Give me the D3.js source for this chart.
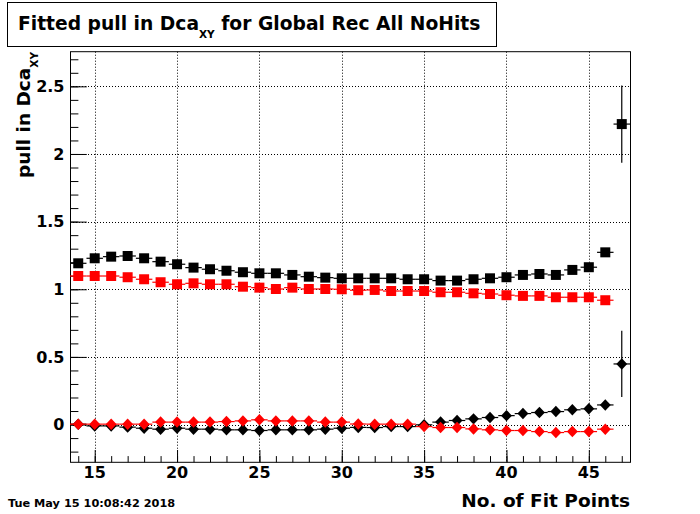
<!DOCTYPE html>
<meta charset="utf-8">
<style>
    body { margin: 0; background: #fff; }
    text { font-family: "DejaVu Sans", sans-serif; font-weight: bold; }
</style>
<svg width="700" height="514"></svg>
<script src="https://d3js.org/d3.v7.min.js"></script>
<script>

    // bins: number of fit points
    var fitPoints = [14, 15, 16, 17, 18, 19, 20, 21, 22, 23, 24, 25, 26, 27, 28, 29, 30,
        31, 32, 33, 34, 35, 36, 37, 38, 39, 40, 41, 42, 43, 44, 45, 46, 47];

    // black squares (14..47)
    var blackSquares = [1.192, 1.229, 1.241, 1.246, 1.229, 1.204, 1.185, 1.160, 1.148, 1.137,
        1.126, 1.118, 1.118, 1.106, 1.093, 1.086, 1.081, 1.081, 1.081, 1.081, 1.074, 1.074,
        1.064, 1.064, 1.074, 1.081, 1.089, 1.106, 1.113, 1.106, 1.143, 1.163, 1.273, 2.221];
    // red squares (14..46)
    var redSquares = [1.098, 1.098, 1.098, 1.089, 1.074, 1.052, 1.037, 1.044, 1.037, 1.037,
        1.019, 1.012, 1.002, 1.012, 1.002, 1.002, 1.000, 0.993, 0.995, 0.987, 0.987, 0.987,
        0.978, 0.978, 0.970, 0.965, 0.956, 0.951, 0.951, 0.941, 0.941, 0.941, 0.919];
    // black diamonds (14..47)
    var blackDiamonds = [0.003, -0.010, -0.010, -0.019, -0.027, -0.034, -0.027, -0.034, -0.034,
        -0.039, -0.039, -0.044, -0.039, -0.039, -0.039, -0.034, -0.027, -0.021, -0.022, -0.015,
        -0.015, -0.002, 0.018, 0.030, 0.042, 0.052, 0.066, 0.081, 0.089, 0.096, 0.109, 0.116,
        0.145, 0.448];
    // red diamonds (14..46)
    var redDiamonds = [0.003, 0.003, 0.003, 0.003, 0.003, 0.018, 0.018, 0.018, 0.018, 0.022,
        0.027, 0.035, 0.027, 0.027, 0.027, 0.018, 0.018, 0.004, 0.003, 0.003, 0.003, -0.015,
        -0.022, -0.022, -0.032, -0.039, -0.044, -0.044, -0.052, -0.059, -0.052, -0.052, -0.034];

    // vertical errors big enough to show outside the marker
    var blackSquareErr = { 47: 0.286 };
    var blackDiamondErr = { 47: 0.245 };

    var xTicks = [15, 20, 25, 30, 35, 40, 45];
    var yTicks = [0, 0.5, 1, 1.5, 2, 2.5];

    var svg = d3.select("svg");
    var frame = { left: 70, right: 630, top: 51.7, bottom: 462.3 };

    var x = d3.scaleLinear().domain([13.5, 47.5]).range([frame.left, frame.right]);
    var y = d3.scaleLinear().domain([-0.279, 2.756]).range([frame.bottom, frame.top]);

    // grid
    var grid = svg.append("g")
        .attr("stroke", "#000")
        .attr("stroke-width", 1)
        .attr("stroke-dasharray", "1,2");
    grid.selectAll(".gx").data(xTicks).enter().append("line")
        .attr("x1", d => Math.round(x(d)) + 0.5).attr("x2", d => Math.round(x(d)) + 0.5)
        .attr("y1", frame.top).attr("y2", frame.bottom);
    grid.selectAll(".gy").data(yTicks).enter().append("line")
        .attr("y1", d => Math.round(y(d)) + 0.5).attr("y2", d => Math.round(y(d)) + 0.5)
        .attr("x1", frame.left).attr("x2", frame.right);

    // axes (ticks inside the frame, ROOT style)
    var xAxis = d3.axisBottom(x).tickValues(xTicks).tickSize(12.3).tickFormat("");
    var xMinor = d3.axisBottom(x).tickValues(d3.range(14, 48)).tickSize(6.2).tickFormat("");
    svg.append("g").attr("transform", "translate(0," + frame.bottom + ") scale(1,-1)")
        .call(xMinor).call(g => g.select(".domain").remove());
    svg.append("g").attr("transform", "translate(0," + frame.bottom + ") scale(1,-1)")
        .call(xAxis).call(g => g.select(".domain").remove());

    var yMinorVals = d3.range(-2, 28).map(d => d / 10);
    var yAxis = d3.axisRight(y).tickValues(yTicks).tickSize(16.8).tickFormat("");
    var yMinor = d3.axisRight(y).tickValues(yMinorVals).tickSize(8.4).tickFormat("");
    svg.append("g").attr("transform", "translate(" + frame.left + ",0)")
        .call(yMinor).call(g => g.select(".domain").remove());
    svg.append("g").attr("transform", "translate(" + frame.left + ",0)")
        .call(yAxis).call(g => g.select(".domain").remove());
    svg.selectAll(".tick line").attr("stroke", "#000");

    // tick labels
    svg.append("g").selectAll("text").data(xTicks).enter().append("text")
        .attr("x", d => x(d)).attr("y", 478)
        .attr("text-anchor", "middle")
        .style("font-size", "16px")
        .text(d => d);
    svg.append("g").selectAll("text").data(yTicks).enter().append("text")
        .attr("x", 64.5).attr("y", d => y(d)).attr("dy", "0.36em")
        .attr("text-anchor", "end")
        .style("font-size", "16px")
        .text(d => d);

    // frame
    svg.append("rect")
        .attr("x", frame.left + 0.5).attr("y", frame.top)
        .attr("width", frame.right - frame.left).attr("height", frame.bottom - frame.top)
        .attr("fill", "none").attr("stroke", "#000");

    // markers
    var diamond = {
        draw: function (context, size) {
            var r = Math.sqrt(size) / 2;
            context.moveTo(0, -r);
            context.lineTo(r * 0.95, 0);
            context.lineTo(0, r);
            context.lineTo(-r * 0.95, 0);
            context.closePath();
        }
    };

    function drawSeries(values, errs, color, shape, size) {
        var pts = values.map(function (v, i) {
            return { n: fitPoints[i], v: v, e: errs[fitPoints[i]] || 0 };
        });
        var g = svg.append("g");
        g.selectAll(".hbar").data(pts).enter().append("line")
            .attr("x1", d => x(d.n - 0.5)).attr("x2", d => x(d.n + 0.5))
            .attr("y1", d => y(d.v)).attr("y2", d => y(d.v))
            .attr("stroke", color).attr("stroke-width", 1.2);
        g.selectAll(".vbar").data(pts.filter(d => d.e > 0)).enter().append("line")
            .attr("x1", d => x(d.n)).attr("x2", d => x(d.n))
            .attr("y1", d => y(d.v - d.e)).attr("y2", d => y(d.v + d.e))
            .attr("stroke", color).attr("stroke-width", 1.2);
        g.selectAll("path").data(pts).enter().append("path")
            .attr("d", d3.symbol().type(shape).size(size))
            .attr("transform", d => "translate(" + x(d.n) + "," + y(d.v) + ")")
            .attr("fill", color);
    }

    drawSeries(blackSquares, blackSquareErr, "#000", d3.symbolSquare, 100);
    drawSeries(redSquares, {}, "#ff0000", d3.symbolSquare, 100);
    drawSeries(blackDiamonds, blackDiamondErr, "#000", diamond, 132);
    drawSeries(redDiamonds, {}, "#ff0000", diamond, 132);

    // title box
    svg.append("rect")
        .attr("x", 7.5).attr("y", 2.5).attr("width", 489).attr("height", 44)
        .attr("fill", "#fff").attr("stroke", "#000");
    var title = svg.append("text").attr("x", 18).attr("y", 30).style("font-size", "18.7px");
    title.append("tspan").text("Fitted pull in Dca");
    title.append("tspan").attr("dy", 8).style("font-size", "10.5px").text("XY");
    title.append("tspan").attr("dy", -8).text(" for Global Rec All NoHits");

    // axis titles
    var ytitle = svg.append("text")
        .attr("transform", "translate(30,52) rotate(-90)")
        .attr("text-anchor", "end")
        .style("font-size", "18.5px");
    ytitle.append("tspan").text("pull in Dca");
    ytitle.append("tspan").attr("dy", 8).style("font-size", "10.5px").text("XY");

    svg.append("text")
        .attr("x", 630).attr("y", 507)
        .attr("text-anchor", "end")
        .style("font-size", "18.5px")
        .text("No. of Fit Points");

    svg.append("text")
        .attr("x", 8).attr("y", 507)
        .style("font-size", "11.3px")
        .text("Tue May 15 10:08:42 2018");

</script>
